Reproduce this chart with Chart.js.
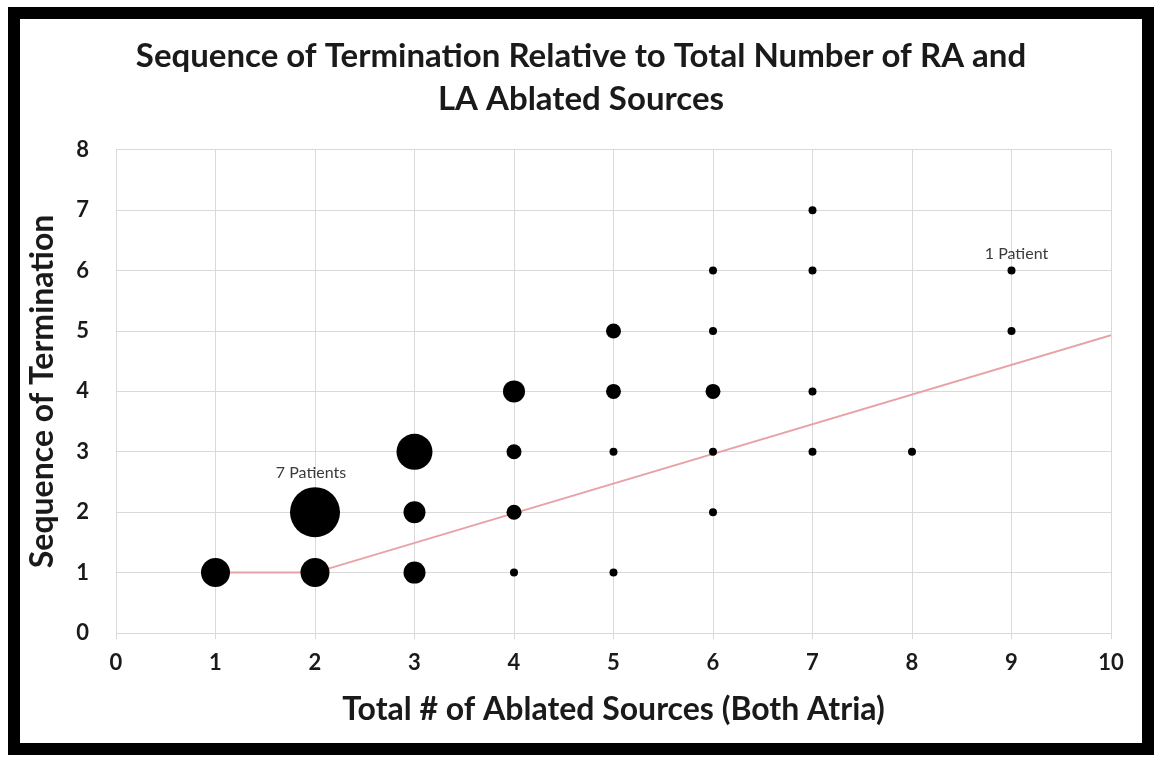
<!DOCTYPE html>
<html>
<head>
<meta charset="utf-8">
<script src="https://cdn.jsdelivr.net/npm/chart.js@4.4.1/dist/chart.umd.min.js"></script>
<style>
  html, body { margin: 0; padding: 0; background: #fff; }
  #frame {
    position: absolute; left: 8px; top: 7px; width: 1146px; height: 748px;
    box-sizing: border-box; border: 12px solid #000; background: #fff;
  }
  #wrap { position: absolute; left: 0; top: 0; width: 1122px; height: 724px; }
</style>
</head>
<body>
<div id="frame">
  <div id="wrap"><canvas id="chart"></canvas></div>
</div>
<script>
// Bubble data: total ablated sources (x), sequence of termination (y), number of patients
const sources  = [1, 2, 2, 3, 3, 3, 4, 4, 4, 4, 5, 5, 5, 5, 6, 6, 6, 6, 6, 7, 7, 7, 7, 8, 9, 9];
const sequence = [1, 1, 2, 1, 2, 3, 1, 2, 3, 4, 1, 3, 4, 5, 2, 3, 4, 5, 6, 3, 4, 6, 7, 3, 5, 6];
const patients = [4, 4, 7, 3, 3, 5, 1, 2, 2, 3, 1, 1, 2, 2, 1, 1, 2, 1, 1, 1, 1, 1, 1, 1, 1, 1];

// Pink trend line
const trendX = [1, 2, 10];
const trendY = [1, 1, 4.93];

// Text labels placed on the chart
const noteText = ["7 Patients", "1 Patient"];
const noteX = [1.96, 9.05];
const noteY = [2.65, 6.28];

const xTicks = [0, 1, 2, 3, 4, 5, 6, 7, 8, 9, 10];
const yTicks = [0, 1, 2, 3, 4, 5, 6, 7, 8];

const FONT = "Lato, 'Open Sans', sans-serif";

function bubbleRadius(n) {
  return 3.5 * n + 0.5;
}

const bubbles = sources.map((x, i) => ({ x: x, y: sequence[i], r: bubbleRadius(patients[i]) }));
const trend = trendX.map((x, i) => ({ x: x, y: trendY[i] }));

// draws the "N Patients" notes in data coordinates
const notesPlugin = {
  id: "notes",
  afterDatasetsDraw(chart) {
    const ctx = chart.ctx;
    const xs = chart.scales.x, ys = chart.scales.y;
    ctx.save();
    ctx.font = "16px " + FONT;
    ctx.fillStyle = "#3a3a3a";
    ctx.textAlign = "center";
    ctx.textBaseline = "middle";
    noteText.forEach((t, i) => {
      ctx.fillText(t, xs.getPixelForValue(noteX[i]), ys.getPixelForValue(noteY[i]));
    });
    ctx.restore();
  }
};

new Chart(document.getElementById("chart").getContext("2d"), {
  type: "bubble",
  data: {
    datasets: [
      {
        type: "line",
        label: "Trend",
        data: trend,
        borderColor: "#e8a2a6",
        borderWidth: 2,
        pointRadius: 0,
        fill: false,
        order: 2
      },
      {
        label: "Patients",
        data: bubbles,
        backgroundColor: "#000",
        borderWidth: 0,
        hoverRadius: 0,
        order: 1
      }
    ]
  },
  options: {
    responsive: true,
    maintainAspectRatio: false,
    animation: false,
    layout: { padding: 0 },
    plugins: {
      legend: { display: false },
      tooltip: { enabled: false },
      title: {
        display: true,
        text: ["Sequence of Termination Relative to Total Number of RA and", "LA Ablated Sources"],
        color: "#1a1a1a",
        font: { family: FONT, size: 33, weight: "bold", lineHeight: 1.3 },
        padding: { top: 16, bottom: 29 }
      }
    },
    scales: {
      x: {
        type: "linear",
        min: 0, max: 10,
        afterBuildTicks: (scale) => { scale.ticks = xTicks.map(v => ({ value: v })); },
        afterFit: (scale) => { scale.height = 110; },
        grid: { color: "#d9d9d9", lineWidth: 1, drawTicks: true, tickLength: 6, tickColor: "#d9d9d9" },
        border: { color: "#d9d9d9" },
        ticks: {
          color: "#1a1a1a", padding: 11,
          font: { family: FONT, size: 22, weight: "bold" }
        },
        title: {
          display: true,
          text: "Total # of Ablated Sources (Both Atria)",
          color: "#1a1a1a",
          font: { family: FONT, size: 32, weight: "bold", lineHeight: 1.2 },
          padding: { top: 0, bottom: 14 }
        }
      },
      y: {
        type: "linear",
        min: 0, max: 8,
        afterBuildTicks: (scale) => { scale.ticks = yTicks.map(v => ({ value: v })); },
        afterFit: (scale) => { scale.width = 96; },
        grid: { color: "#d9d9d9", lineWidth: 1, drawTicks: false },
        border: { color: "#d9d9d9" },
        ticks: {
          color: "#1a1a1a", padding: 27,
          font: { family: FONT, size: 22, weight: "bold" }
        },
        title: {
          display: true,
          text: "Sequence of Termination",
          color: "#1a1a1a",
          font: { family: FONT, size: 32, weight: "bold", lineHeight: 1.2 },
          padding: { top: 3, bottom: 0 }
        }
      },
      // empty right-hand axis, only keeps the white margin right of the plot
      yRight: {
        type: "linear",
        position: "right",
        min: 0, max: 8,
        afterFit: (scale) => { scale.width = 31; },
        grid: { display: false, drawOnChartArea: false },
        border: { display: false },
        ticks: { display: false }
      }
    }
  },
  plugins: [notesPlugin]
});
</script>
</body>
</html>
